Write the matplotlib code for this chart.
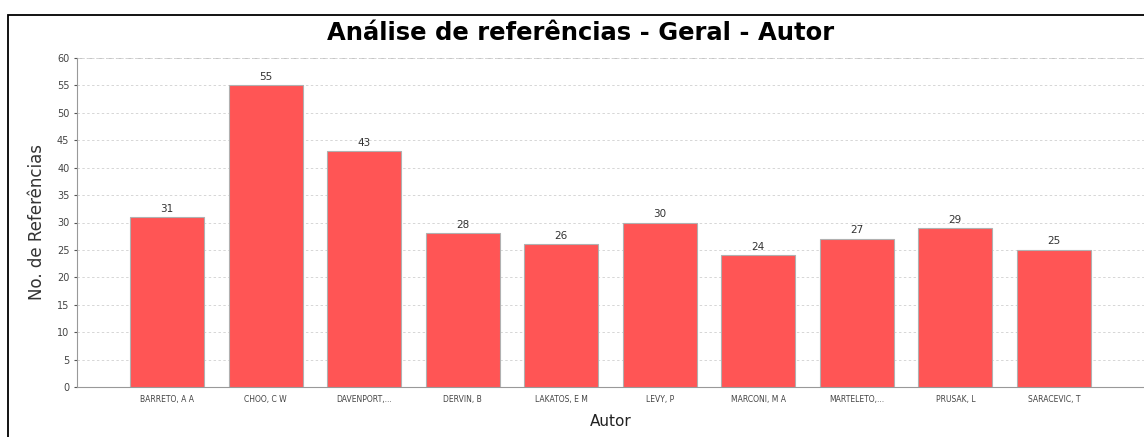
import matplotlib
matplotlib.use("Agg")
import matplotlib.pyplot as plt
from matplotlib.patches import Rectangle

autores = ["BARRETO, A A", "CHOO, C W", "DAVENPORT,...", "DERVIN, B", "LAKATOS, E M",
           "LEVY, P", "MARCONI, M A", "MARTELETO,...", "PRUSAK, L", "SARACEVIC, T"]
referencias = [31, 55, 43, 28, 26, 30, 24, 27, 29, 25]
y_ticks = list(range(0, 61, 5))

fig = plt.figure(figsize=(11.44, 4.37), dpi=100)
ax = fig.add_axes([77 / 1144, 1 - 387 / 437, 1 - 77 / 1144, (387 - 58) / 437])

# moldura preta
fig.patches.append(Rectangle((8 / 1144, -0.1), 1.2, 1 - 15 / 437 + 0.1,
                             transform=fig.transFigure, fill=False,
                             edgecolor="black", linewidth=1.3))

pos = list(range(len(autores)))
ax.bar(pos, referencias, width=0.75, color="#ff5555", edgecolor="#b0b0b0",
       linewidth=0.8, zorder=3)

for x, v in zip(pos, referencias):
    ax.annotate(str(v), (x, v), xytext=(0, 2.5), textcoords="offset points",
                ha="center", va="bottom", fontsize=7.5, color="#333333")

ax.set_xlim(-0.915, 9.915)
ax.set_ylim(0, 60)
ax.set_yticks(y_ticks)
ax.set_xticks(pos)
ax.set_xticklabels(autores, fontsize=5.5, color="#444444")
ax.tick_params(axis="y", labelsize=7, colors="#555555", length=2, width=0.8)
ax.tick_params(axis="x", length=0, pad=6)
for lbl in ax.get_yticklabels():
    lbl.set_color("#444444")

ax.yaxis.grid(True, linestyle=(0, (2.5, 2.5)), color="#d6d6d6", linewidth=0.7, zorder=0)
ax.spines["right"].set_visible(False)
ax.spines["top"].set_visible(False)
ax.spines["left"].set_color("#999999")
ax.spines["bottom"].set_color("#999999")
ax.axhline(60, color="#c4c4c4", linestyle=(0, (3, 2)), linewidth=1.4, zorder=1)

ax.set_ylabel("No. de Referências", fontsize=12, color="#333333", labelpad=8)
ax.set_xlabel("Autor", fontsize=11, color="#222222", labelpad=7)

fig.text(581 / 1144, 1 - 33 / 437, "Análise de referências - Geral - Autor",
         ha="center", va="center", fontsize=17.5, fontweight="bold")

fig.savefig("out.png", dpi=100)
